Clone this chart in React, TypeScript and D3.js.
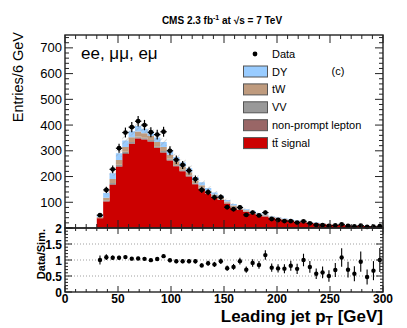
import React from "react";
import * as d3 from "d3";

// binning: 6 GeV bins from 30 to 300 GeV
const binStart = 30;
const binWidth = 6;

// stacked simulation, entries per bin
const ttbar = [38, 103, 168, 238, 288, 326, 348, 344, 335, 311, 292, 262, 240, 221, 200, 170, 152, 134, 120, 109, 95, 79, 71, 63, 56, 50, 45, 40, 36, 32, 28.5, 25, 22.5, 20, 18, 15.5, 13.8, 12.5, 11.2, 9.8, 9, 8.2, 7.3, 6.4, 6];
const nonPrompt = [1, 2, 3, 3, 3, 3, 3, 3, 3, 3, 3, 3, 2, 2, 2, 2, 2, 1, 1, 1, 1, 1, 1, 1, 1, 1, 0.5, 0.5, 0.5, 0.5, 0.5, 0.4, 0.4, 0.3, 0.3, 0.3, 0.2, 0.2, 0.2, 0.2, 0.1, 0.1, 0.1, 0.1, 0.1];
const vv = [1, 3, 4, 5, 5, 5, 5, 4, 4, 4, 4, 4, 3, 3, 3, 3, 3, 2, 2, 2, 2, 2, 1, 1, 1, 1, 1, 1, 1, 0.8, 0.7, 0.6, 0.5, 0.5, 0.5, 0.4, 0.4, 0.3, 0.3, 0.3, 0.2, 0.2, 0.2, 0.2, 0.2];
const tW = [3, 10, 15, 18, 19, 19, 19, 17, 16, 16, 16, 16, 14, 13, 12, 10, 9, 8, 7, 6, 5, 5, 4, 4, 3, 3, 3, 2.5, 2, 2, 1.8, 1.6, 1.4, 1.2, 1.1, 1, 0.9, 0.8, 0.7, 0.6, 0.6, 0.5, 0.5, 0.4, 0.4];
const dy = [7, 18, 23, 26, 25, 23, 21, 18, 16, 18, 19, 18, 17, 16, 15, 13, 12, 10, 8, 7, 6, 6, 6, 4, 5, 3, 2.5, 2, 2.5, 1.7, 1.5, 1.4, 1.2, 1, 1.1, 0.8, 0.7, 0.7, 0.6, 0.6, 0.6, 0.5, 0.4, 0.4, 0.3];

// observed events per bin
const data = [50, 148, 228, 310, 371, 392, 415, 400, 372, 363, 374, 300, 265, 245, 223, 190, 148, 139, 119, 120, 81, 73, 80, 51, 60, 49, 60, 35, 31, 27, 27, 21, 26, 18, 12, 11, 8, 10, 14, 8, 6, 9, 4, 5, 7];

const mcUncert = 0.045;

const yTicksMain = [100, 200, 300, 400, 500, 600, 700];
const yTicksRatio = [0, 0.5, 1, 1.5, 2];
const xTicks = [0, 50, 100, 150, 200, 250, 300];

const legend = [
  { label: "DY", color: "#99ccff" },
  { label: "tW", color: "#bf9b7e" },
  { label: "VV", color: "#999999" },
  { label: "non-prompt lepton", color: "#996666" },
  { label: "tt\u0304 signal", color: "#cc0000" },
];

const font = "'Liberation Sans', Arial, Helvetica, sans-serif";

const X0 = 65, X1 = 383, YT = 35, YM = 228, YB = 292;

export default function App() {
  const x = d3.scaleLinear().domain([0, 300]).range([X0, X1]);
  const y = d3.scaleLinear().domain([0, 750]).range([YM, YT]);
  const yr = d3.scaleLinear().domain([0, 2]).range([YB, YM]);

  const rows = data.map((_, i) => ({
    lo: binStart + i * binWidth,
    hi: binStart + (i + 1) * binWidth,
    tt: ttbar[i], np: nonPrompt[i], vv: vv[i], tw: tW[i], dy: dy[i],
  }));
  const keys = ["tt", "np", "vv", "tw", "dy"];
  const colors = ["#cc0000", "#996666", "#999999", "#bf9b7e", "#99ccff"];
  const series = d3.stack<any>().keys(keys)(rows);
  const total = rows.map((r) => r.tt + r.np + r.vv + r.tw + r.dy);

  const area = d3.area<any>()
    .x((p) => x(p.x)).y0((p) => y(p.y0)).y1((p) => y(p.y1))
    .curve(d3.curveStepAfter);

  const stepPts = (lowF: (i: number) => number, highF: (i: number) => number) => {
    const pts = rows.map((r, i) => ({ x: r.lo, y0: lowF(i), y1: highF(i) }));
    const n = rows.length - 1;
    pts.push({ x: rows[n].hi, y0: lowF(n), y1: highF(n) });
    return pts;
  };

  const xMinor = d3.range(0, 301, 10);
  const yMinorMain = d3.range(0, 751, 20);
  const yMinorRatio = d3.range(0, 2.01, 0.1);

  return (
    <svg width={407} height={328} style={{ position: "absolute", left: 0, top: 0, background: "#fff" }} fontFamily={font}>
      <defs>
        <pattern id="hatch" width="4" height="4" patternUnits="userSpaceOnUse" patternTransform="rotate(45)">
          <line x1="0" y1="0" x2="0" y2="4" stroke="#9a9a9a" strokeWidth="0.8" />
        </pattern>
        <clipPath id="mainClip"><rect x={X0} y={YT} width={X1 - X0} height={YM - YT} /></clipPath>
      </defs>

      {/* title */}
      <text x={222} y={24} fontSize={10} fontWeight="bold" textAnchor="middle">
        CMS 2.3 fb<tspan dy={-4} fontSize={7}>-1</tspan><tspan dy={4}> at </tspan>√s = 7 TeV
      </text>

      {/* stacked simulation */}
      <g clipPath="url(#mainClip)">
        {series.map((s, k) => (
          <path key={k} d={area(stepPts((i) => s[i][0], (i) => s[i][1])) || ""} fill={colors[k]} />
        ))}
        <path d={area(stepPts((i) => total[i] * (1 - mcUncert), (i) => total[i] * (1 + mcUncert))) || ""} fill="url(#hatch)" />
      </g>

      {/* data points */}
      {rows.map((r, i) => {
        const n = data[i];
        const e = Math.sqrt(n);
        const cx = x((r.lo + r.hi) / 2);
        return (
          <g key={i} stroke="#000" strokeWidth={1.2}>
            <line x1={cx} x2={cx} y1={y(n - e)} y2={y(n + e)} />
            <line x1={x(r.lo)} x2={x(r.hi)} y1={y(n)} y2={y(n)} />
            <circle cx={cx} cy={y(n)} r={2.4} fill="#000" stroke="none" />
          </g>
        );
      })}

      {/* ratio gridlines */}
      {[0.5, 1, 1.5].map((v) => (
        <line key={v} x1={X0} x2={X1} y1={yr(v)} y2={yr(v)} stroke="#888" strokeWidth={0.8} strokeDasharray="1,2" />
      ))}

      {/* ratio points */}
      {rows.map((r, i) => {
        const n = data[i];
        const rv = n / total[i];
        const e = Math.sqrt(n) / total[i];
        const cx = x((r.lo + r.hi) / 2);
        return (
          <g key={i} stroke="#000" strokeWidth={1.1}>
            <line x1={cx} x2={cx} y1={yr(Math.max(0, rv - e))} y2={yr(Math.min(2, rv + e))} />
            <circle cx={cx} cy={yr(rv)} r={2.2} fill="#000" stroke="none" />
          </g>
        );
      })}

      {/* tick marks */}
      <g stroke="#222" strokeWidth={1}>
        {xMinor.map((v) => {
          const L = v % 50 === 0 ? 8 : 4;
          const L2 = v % 50 === 0 ? 6 : 3;
          return (
            <g key={v}>
              <line x1={x(v)} x2={x(v)} y1={YT} y2={YT + L} />
              <line x1={x(v)} x2={x(v)} y1={YM} y2={YM - L} />
              <line x1={x(v)} x2={x(v)} y1={YM} y2={YM + L2} />
              <line x1={x(v)} x2={x(v)} y1={YB} y2={YB - L2} />
            </g>
          );
        })}
        {yMinorMain.map((v) => {
          const L = v % 100 === 0 ? 8 : 4;
          return (
            <g key={v}>
              <line x1={X0} x2={X0 + L} y1={y(v)} y2={y(v)} />
              <line x1={X1} x2={X1 - L} y1={y(v)} y2={y(v)} />
            </g>
          );
        })}
        {yMinorRatio.map((v, k) => {
          const L = k % 5 === 0 ? 7 : 3;
          return (
            <g key={k}>
              <line x1={X0} x2={X0 + L} y1={yr(v)} y2={yr(v)} />
              <line x1={X1} x2={X1 - L} y1={yr(v)} y2={yr(v)} />
            </g>
          );
        })}
      </g>

      {/* frames */}
      <rect x={X0} y={YT} width={X1 - X0} height={YM - YT} fill="none" stroke="#222" strokeWidth={1.4} />
      <rect x={X0} y={YM} width={X1 - X0} height={YB - YM} fill="none" stroke="#222" strokeWidth={1.4} />

      {/* axis labels */}
      {yTicksMain.map((v) => (
        <text key={v} x={62} y={y(v) + 4.5} fontSize={13} textAnchor="end">{v}</text>
      ))}
      {yTicksRatio.map((v) => (
        <text key={v} x={62} y={yr(v) + 4.5} fontSize={12} fontWeight="bold" textAnchor="end">{v}</text>
      ))}
      {xTicks.map((v) => (
        <text key={v} x={x(v)} y={303} fontSize={12} fontWeight="bold" textAnchor="middle">{v}</text>
      ))}

      <text transform="translate(23,32) rotate(-90)" fontSize={14.5} textAnchor="end">Entries/6 GeV</text>
      <text transform="translate(45,229) rotate(-90)" fontSize={11} fontWeight="bold" textAnchor="end">Data/Sim.</text>
      <text x={383} y={321.5} fontSize={17} fontWeight="bold" textAnchor="end">
        Leading jet p<tspan dy={3} fontSize={12}>T</tspan><tspan dy={-3}> [GeV]</tspan>
      </text>

      {/* channel label */}
      <text x={81} y={59} fontSize={17}>ee, μμ, eμ</text>
      <text x={338} y={75} fontSize={11} textAnchor="middle">(c)</text>

      {/* legend */}
      <circle cx={255} cy={54} r={2.4} fill="#000" />
      <text x={272} y={58} fontSize={11}>Data</text>
      {legend.map((d, k) => {
        const cy = 71.5 + k * 17.9;
        return (
          <g key={d.label}>
            <rect x={243.5} y={cy - 5.5} width={24} height={11} fill={d.color} stroke="#555" strokeWidth={1} />
            <text x={272} y={cy + 4} fontSize={11}>{d.label}</text>
          </g>
        );
      })}
    </svg>
  );
}
